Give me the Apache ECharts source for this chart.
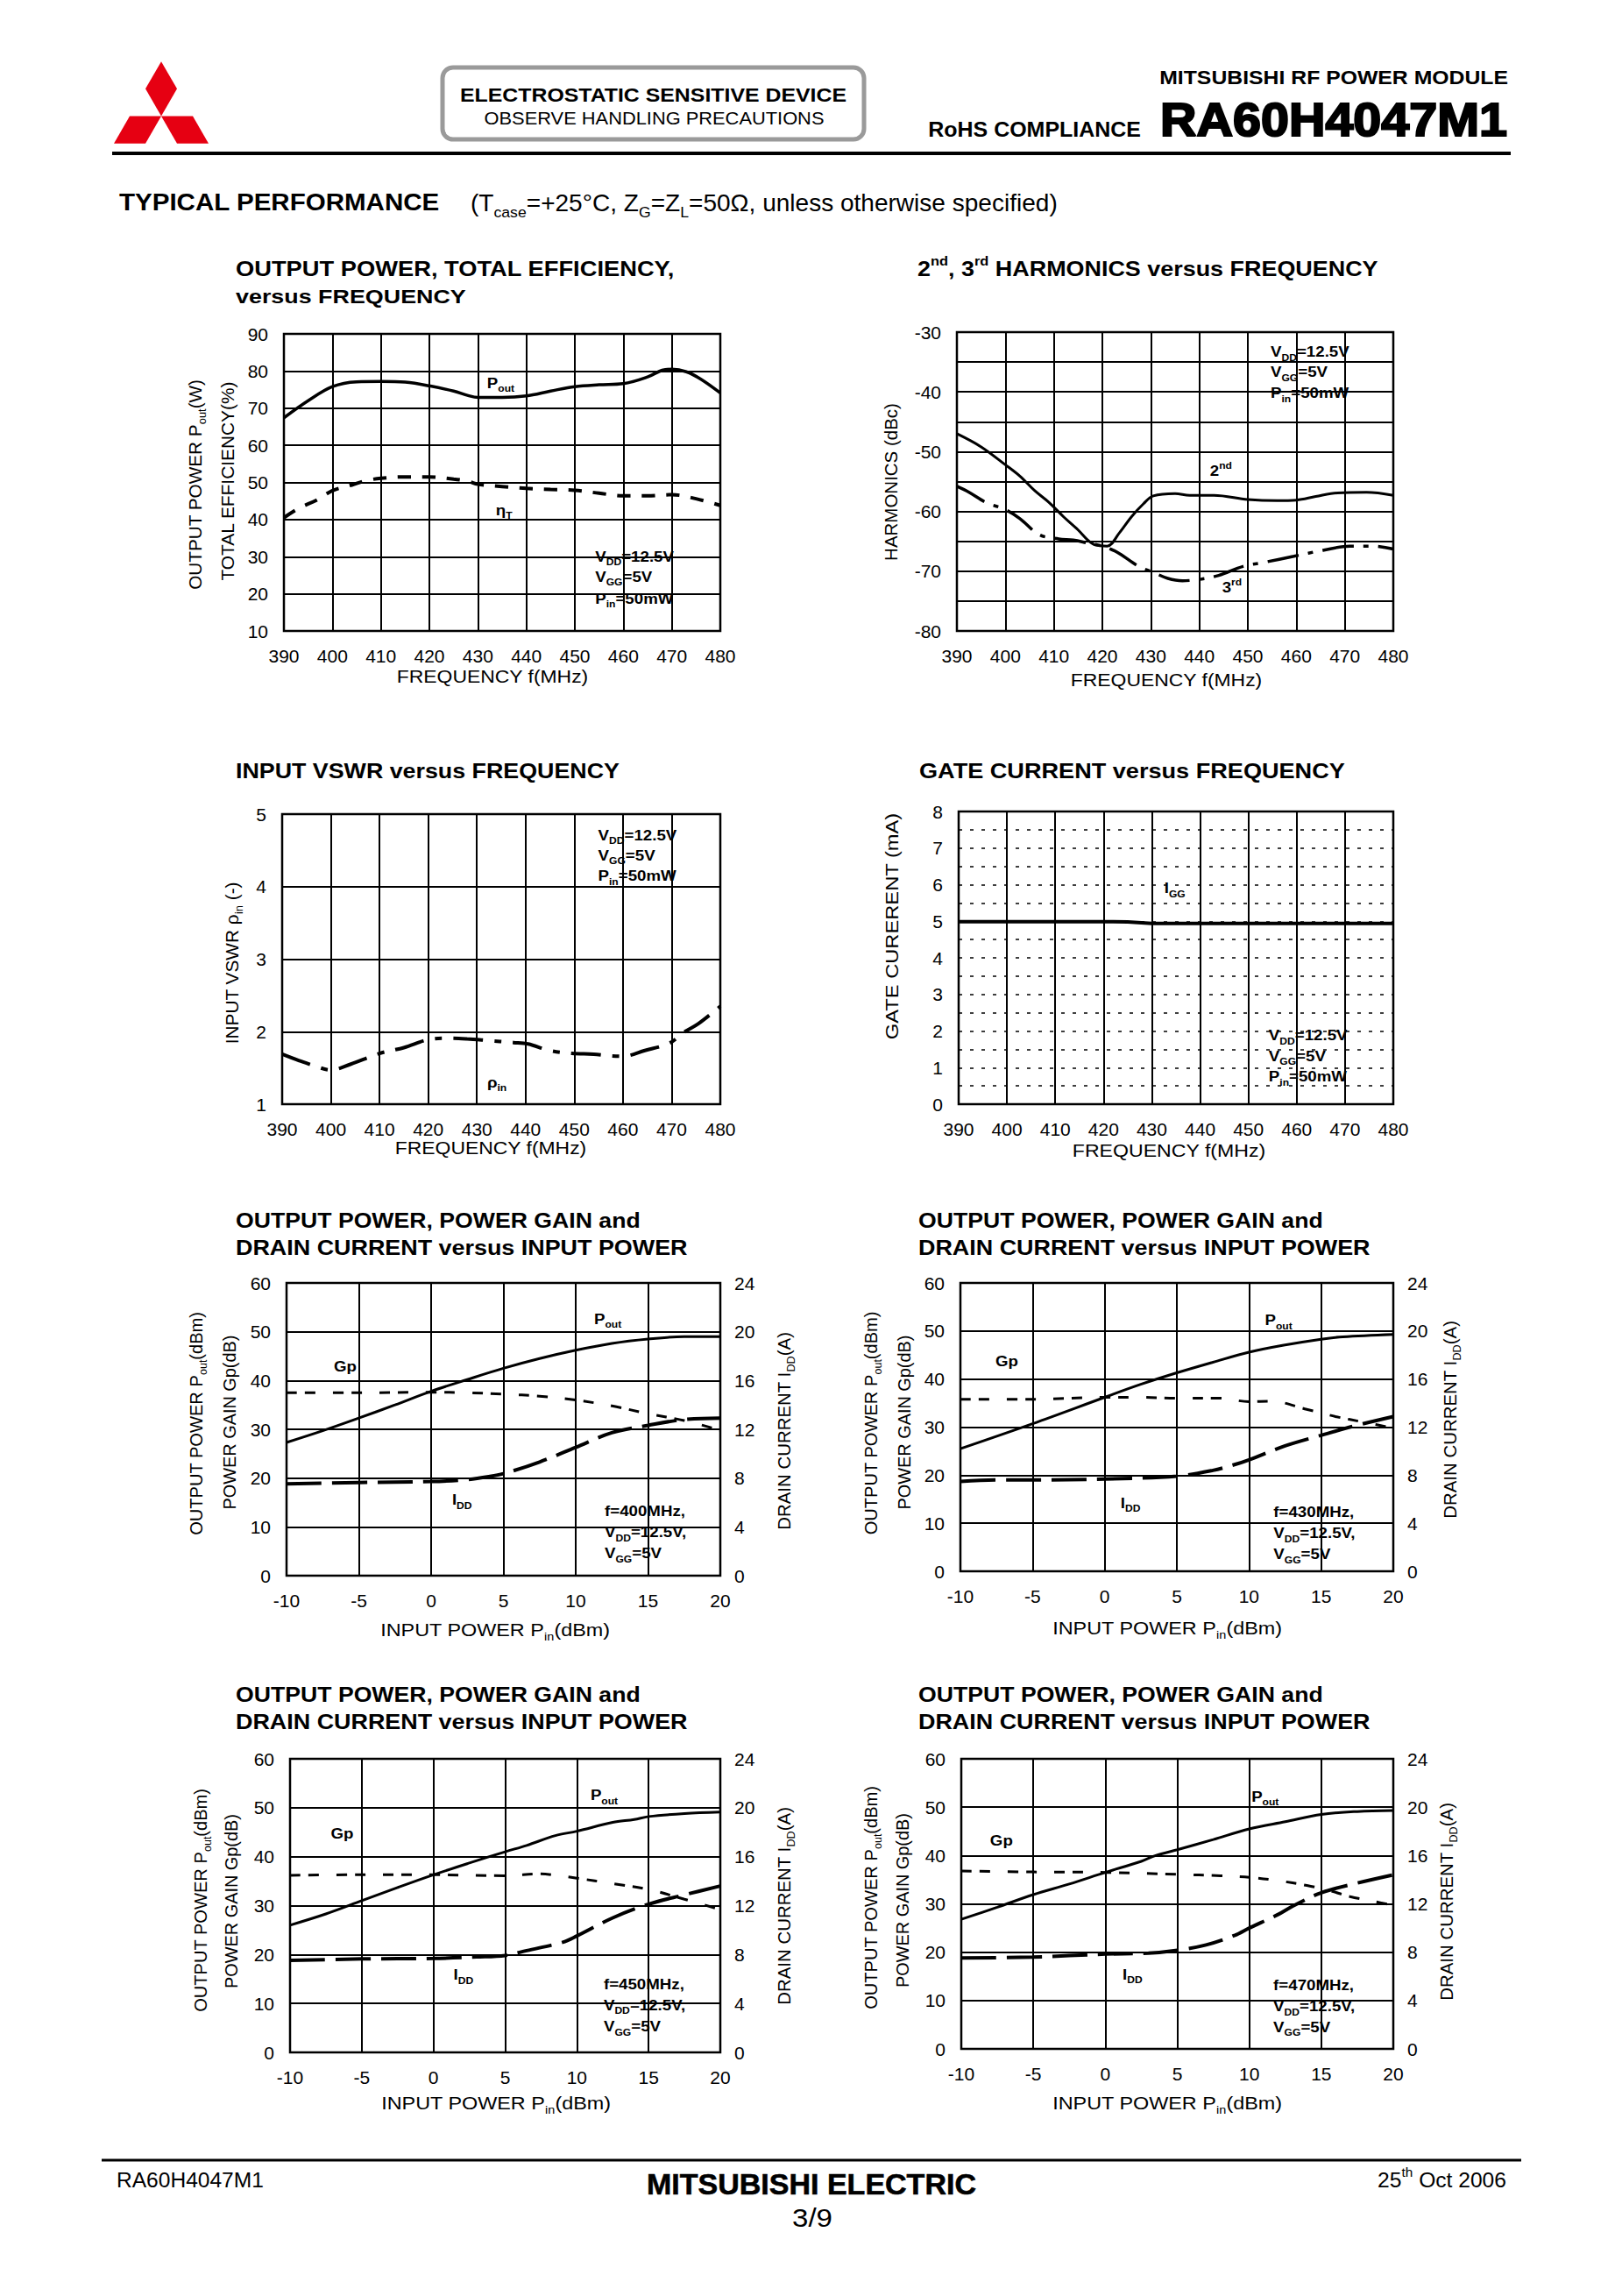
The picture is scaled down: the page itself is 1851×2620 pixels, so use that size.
<!DOCTYPE html>
<html>
<head>
<meta charset="utf-8">
<title>RA60H4047M1 Typical Performance</title>
<script src="https://cdn.jsdelivr.net/npm/echarts@6.0.0/dist/echarts.min.js"></script>
<style>
html,body{margin:0;padding:0;background:#fff;}
#chart{width:1851px;height:2620px;}
</style>
</head>
<body>
<div id="chart"></div>
<script>
const FONT = '"Liberation Sans", Arial, Helvetica, sans-serif';

// ---------- axis ranges [min, max, interval] (tick labels) ----------
const freqAxis = [390, 480, 10];
const pinAxis  = [-10, 20, 5];
const effAxis  = [10, 90, 10];
const harmAxis = [-80, -30, 5];
const vswrAxis = [1, 5, 1];
const iggAxis  = [0, 8, 0.5];
const poutAxis = [0, 60, 10];
const iddAxis  = [0, 24, 4];

// ---------- Chart 1: output power & total efficiency vs frequency ----------
const c1PoutFreq = [390,395,400,405,410,415,420,425,428,430,435,440,445,450,455,460,465,468,470,473,476,480];
const c1PoutW    = [67.4,72,75.8,77.1,77.2,77,76,74.6,73.4,72.9,72.9,73.3,74.6,75.8,76.3,76.6,78.4,80.2,80.5,79.8,77.8,74.1];
const c1EtaFreq  = [390,393,397,400,404,407,410,415,420,425,428,430,435,440,445,450,455,460,465,470,475,480];
const c1EtaPct   = [40.5,43,45.4,47.8,49.3,50.5,51.1,51.5,51.5,50.9,50.3,49.5,48.9,48.4,48.1,47.9,47.1,46.4,46.4,46.7,45.6,43.8];

// ---------- Chart 2: harmonics vs frequency ----------
const c2Freq2 = [390,395,400,403,406,409,412,415,417,418.5,421,423.5,426,428.5,430.5,435,438,443,450,456,460,464,468.5,474.5,480];
const c2Harm2 = [-47,-49.2,-52.2,-54.1,-56.5,-58.5,-60.9,-63.1,-64.8,-65.6,-65.8,-63.6,-60.9,-58.7,-57.4,-57,-57.3,-57.3,-58,-58.2,-58.1,-57.5,-56.9,-56.8,-57.3];
const c2Freq3 = [390,392.5,396,400,403,407,411,414,417,420,423,427.5,430.5,433.5,436.5,440.5,444,449,453.5,459.5,465.5,471,476,480];
const c2Harm3 = [-55.8,-56.8,-58.5,-59.7,-61.2,-63.9,-64.6,-64.8,-65.3,-65.8,-66.8,-69.2,-70.2,-71.2,-71.6,-71.3,-70.7,-69.2,-68.5,-67.5,-66.5,-65.8,-65.8,-66.3];

// ---------- Chart 3: input VSWR vs frequency ----------
const c3Freq = [390,393.5,397,400,404,410,415,420,424,428,432,437.5,440.5,445,449.5,454,457,460,464.5,469.5,472.5,475.5,480];
const c3Vswr = [1.69,1.60,1.52,1.47,1.55,1.70,1.78,1.89,1.91,1.90,1.88,1.85,1.83,1.74,1.70,1.69,1.67,1.66,1.74,1.84,1.99,2.11,2.35];

// ---------- Chart 4: gate current vs frequency ----------
const c4Freq = [390,400,410,420,425,430,440,450,460,470,480];
const c4Igg  = [4.99,4.99,4.99,4.99,4.98,4.94,4.94,4.94,4.94,4.94,4.94];

// ---------- Charts 5-8: Pout, Gp, IDD vs input power ----------
const c5PinP = [-10,-7.5,-5,-2.5,0,2.5,5,7.5,10,12.5,15,17.5,20];
const c5Pout = [27.3,29.7,32.3,35,37.8,40.2,42.5,44.5,46.2,47.6,48.5,49.0,49.0];
const c5PinG = [-10,-5,0,2.5,5,7.5,10,12.5,15,17.5,20];
const c5Gp   = [37.5,37.5,37.6,37.5,37.2,36.8,36.0,34.8,33.2,31.8,29.8];
const c5PinI = [-10,-5,0,2.5,4,5,7.5,10,12.5,15,17.5,20];
const c5Idd  = [7.52,7.64,7.72,7.88,8.12,8.36,9.32,10.52,11.72,12.32,12.8,12.92];

const c6PinP = [-10,-5,0,2.5,5,7.5,10,12.5,15,16.5,20];
const c6Pout = [25.5,30.7,36.2,38.9,41.3,43.5,45.6,47.1,48.3,48.8,49.3];
const c6PinG = [-10,-5,0,2.5,5,8,10,11.5,14,16,18,20];
const c6Gp   = [35.8,35.8,36.2,36.2,36.0,36.0,35.3,35.4,33.7,32.2,31.0,29.8];
const c6PinI = [-10,-7.5,-5,0,5,7.5,9,10,12.5,15,17.5,20];
const c6Idd  = [7.48,7.6,7.6,7.68,7.92,8.4,8.88,9.28,10.44,11.32,12.16,12.88];

const c7PinP = [-10,-7.5,-5,-2.5,0,2.5,5,6.5,8.5,10,12.5,14,15,17.5,20];
const c7Pout = [26,28.3,31,33.7,36.3,38.7,41,42.3,44.3,45.2,47,47.6,48.2,48.8,49.1];
const c7PinG = [-10,-5,0,5,7.5,8.5,10,12.5,15,17.5,20];
const c7Gp   = [36.2,36.3,36.3,36.1,36.5,36.2,35.6,34.5,33.3,31.3,29.2];
const c7PinI = [-10,-5,0,3,5,6.5,9,10,12.5,15,17.5,20];
const c7Idd  = [7.52,7.64,7.68,7.8,7.92,8.32,9.0,9.52,11.0,12.12,12.88,13.6];

const c8PinP = [-10,-7.5,-5,-2.5,0,2.5,3.5,5,7.5,10,12.5,15,17.5,20];
const c8Pout = [26.8,29.3,31.9,34.1,36.5,38.8,40,41.2,43.3,45.5,47,48.5,49.1,49.3];
const c8PinG = [-10,-5,0,5,8,10,12,14,15.5,17,18.5,20];
const c8Gp   = [36.8,36.6,36.5,36.1,35.8,35.5,34.8,33.8,32.8,31.5,30.6,29.7];
const c8PinI = [-10,-5,0,3,5,7,9,10,12,13,15,17.5,20];
const c8Idd  = [7.52,7.6,7.84,7.92,8.16,8.6,9.4,10.0,11.12,11.8,12.92,13.72,14.4];

// ---------- helpers ----------
const zip = (xs, ys) => xs.map((x, i) => [x, ys[i]]);

const GRIDS = [
  [324, 381, 498, 339],
  [1092, 379, 498, 341],
  [322, 929, 500, 331],
  [1094, 926, 496, 334],
  [327, 1464, 495, 334],
  [1096, 1464, 494, 329],
  [331, 2007, 491, 335],
  [1097, 2007, 493, 331]
];

const chart = echarts.init(document.getElementById('chart'), null, {renderer: 'svg', width: 1851, height: 2620});

function axisCommon(range, gridIndex, extra) {
  const o = {
    type: 'value', gridIndex: gridIndex, min: range[0], max: range[1], interval: range[2],
    axisLine: {show: false}, axisTick: {show: false},
    splitLine: {show: true, lineStyle: {color: '#000', width: 2, type: 'solid'}},
    axisLabel: {color: '#000', fontSize: 21, fontFamily: FONT, margin: 18}
  };
  return Object.assign(o, extra || {});
}
const lbl = (extra) => Object.assign({color: '#000', fontSize: 21, fontFamily: FONT, margin: 18}, extra);

const xAxes = [];
for (let i = 0; i < 4; i++) xAxes.push(axisCommon(freqAxis, i));
for (let i = 4; i < 8; i++) xAxes.push(axisCommon(pinAxis, i));

const yAxes = [
  axisCommon(effAxis, 0),
  axisCommon(harmAxis, 1, {axisLabel: lbl({formatter: v => (v % 10 === 0 ? String(v) : '')})}),
  axisCommon(vswrAxis, 2),
  axisCommon(iggAxis, 3, {
    splitLine: {show: true, lineStyle: {color: '#000', width: 1.5, type: [4, 9]}},
    axisLabel: lbl({formatter: v => (Number.isInteger(v) ? String(v) : '')})
  }),
  axisCommon(poutAxis, 4), axisCommon(poutAxis, 5), axisCommon(poutAxis, 6), axisCommon(poutAxis, 7)
];
for (let k = 0; k < 4; k++) {
  yAxes.push(axisCommon(iddAxis, 4 + k, {position: 'right', splitLine: {show: false}, axisLabel: lbl({margin: 16})}));
}

function line(xi, yi, data, type, width, smooth) {
  return {
    type: 'line', xAxisIndex: xi, yAxisIndex: yi, data: data,
    showSymbol: false, symbol: 'none', smooth: smooth === false ? false : 0.35,
    lineStyle: {color: '#000', width: width, type: type, cap: 'butt'},
    itemStyle: {color: '#000'}, silent: true, z: 3
  };
}

const series = [
  line(0, 0, zip(c1PoutFreq, c1PoutW), 'solid', 3.5),
  line(0, 0, zip(c1EtaFreq, c1EtaPct), [15, 13], 4),
  line(1, 1, zip(c2Freq2, c2Harm2), 'solid', 3),
  line(1, 1, zip(c2Freq3, c2Harm3), [36, 11, 6, 11], 3.5),
  line(2, 2, zip(c3Freq, c3Vswr), [34, 13, 8, 13], 4),
  line(3, 3, zip(c4Freq, c4Igg), 'solid', 4, false)
];
const pinSets = [
  [c5PinP, c5Pout, c5PinG, c5Gp, c5PinI, c5Idd],
  [c6PinP, c6Pout, c6PinG, c6Gp, c6PinI, c6Idd],
  [c7PinP, c7Pout, c7PinG, c7Gp, c7PinI, c7Idd],
  [c8PinP, c8Pout, c8PinG, c8Gp, c8PinI, c8Idd]
];
pinSets.forEach((s, k) => {
  series.push(line(4 + k, 4 + k, zip(s[0], s[1]), 'solid', 3));
  series.push(line(4 + k, 4 + k, zip(s[2], s[3]), [12, 9, 12, 20], 3));
  series.push(line(4 + k, 8 + k, zip(s[4], s[5]), [40, 12], 4));
});

chart.setOption({
  animation: false,
  backgroundColor: '#fff',
  textStyle: {fontFamily: FONT},
  grid: GRIDS.map(g => ({
    left: g[0], top: g[1], width: g[2], height: g[3], show: true,
    borderColor: '#000', borderWidth: 2.5, backgroundColor: 'transparent',
    containLabel: false, outerBoundsMode: 'none'
  })),
  xAxis: xAxes,
  yAxis: yAxes,
  series: series
});

// ---------- text helpers ----------
const mctx = document.createElement('canvas').getContext('2d');
function fstr(size, weight) { return (weight || 'normal') + ' ' + size + 'px ' + FONT; }
function mw(t, size, weight) { mctx.font = fstr(size, weight); return mctx.measureText(t).width; }
function richText(str, size, weight, stroke) {
  const sub = Math.round(size * 0.62);
  const re = /([_^])\{([^}]*)\}/g;
  let out = '', w = 0, last = 0, m;
  const push = (name, t, s) => { if (!t) return; out += '{' + name + '|' + t + '}'; w += mw(t, s, weight); };
  while ((m = re.exec(str)) !== null) {
    push('n', str.slice(last, m.index), size);
    push(m[1] === '_' ? 'b' : 'p', m[2], sub);
    last = re.lastIndex;
  }
  push('n', str.slice(last), size);
  const base = {fontFamily: FONT, fontWeight: weight || 'normal', fill: '#000'};
  if (stroke) { base.stroke = '#000'; base.lineWidth = stroke; }
  return {text: out, width: w, rich: {
    n: Object.assign({fontSize: size, lineHeight: Math.round(size * 1.4), verticalAlign: 'middle'}, base),
    b: Object.assign({fontSize: sub, verticalAlign: 'bottom'}, base),
    p: Object.assign({fontSize: sub, verticalAlign: 'top'}, base)
  }};
}
function T(x, y, str, size, weight, o) {
  o = o || {};
  const r = richText(str, size, weight, o.stroke);
  const sx = o.w ? o.w / r.width : (o.sx || 1);
  return {
    type: 'text', x: x, y: y, rotation: o.rot || 0, scaleX: sx, scaleY: 1, silent: true, z: 100,
    style: {text: r.text, rich: r.rich, fill: '#000', font: fstr(size, weight),
      align: o.align || 'left', verticalAlign: 'middle'}
  };
}
const ROT = Math.PI / 2;
function A(k, x, y, str, o) {
  const p = chart.convertToPixel({xAxisIndex: k, yAxisIndex: k}, [x, y]);
  return T(p[0], p[1], str, 17, 'bold', Object.assign({sx: 1.1}, o || {}));
}
function cond(k, x, ys, lines) { return lines.map((s, i) => A(k, x, ys[i], s)); }
const COND_F = ['V_{DD}=12.5V', 'V_{GG}=5V', 'P_{in}=50mW'];

const g = [];
// logo
const RED = '#e60012';
const LC = [184, 132.5], LS = 36, LH = LS * 0.866;
const poly = pts => ({type: 'polygon', shape: {points: pts}, style: {fill: RED}, silent: true});
g.push(poly([[LC[0], LC[1]], [LC[0] + LS / 2, LC[1] - LH], [LC[0], LC[1] - 2 * LH], [LC[0] - LS / 2, LC[1] - LH]]));
g.push(poly([[LC[0], LC[1]], [LC[0] - LS, LC[1]], [LC[0] - 1.5 * LS, LC[1] + LH], [LC[0] - LS / 2, LC[1] + LH]]));
g.push(poly([[LC[0], LC[1]], [LC[0] + LS, LC[1]], [LC[0] + 1.5 * LS, LC[1] + LH], [LC[0] + LS / 2, LC[1] + LH]]));

// ESD box
g.push({type: 'rect', shape: {x: 505, y: 77, width: 481, height: 82, r: 12}, style: {fill: '#fff', stroke: '#9a9a9a', lineWidth: 5}, silent: true});
g.push(T(745.5, 108, 'ELECTROSTATIC SENSITIVE DEVICE', 23, 'bold', {align: 'center', w: 441}));
g.push(T(746.5, 135, 'OBSERVE HANDLING PRECAUTIONS', 20, 'normal', {align: 'center', w: 388}));

// header right
g.push(T(1721, 88, 'MITSUBISHI RF POWER MODULE', 22, 'bold', {align: 'right', w: 398}));
g.push(T(1302, 148, 'RoHS COMPLIANCE', 24, 'bold', {align: 'right', w: 243}));
g.push(T(1720, 137, 'RA60H4047M1', 54, 'bold', {align: 'right', w: 396, stroke: 2.2}));
g.push({type: 'line', shape: {x1: 128, y1: 175, x2: 1724, y2: 175}, style: {stroke: '#000', lineWidth: 4}, silent: true});

g.push(T(136, 230, 'TYPICAL PERFORMANCE', 28, 'bold', {w: 366}));
g.push(T(537, 232, '(T_{case}=+25°C, Z_{G}=Z_{L}=50Ω, unless otherwise specified)', 27, 'normal', {w: 670}));

// footer
g.push({type: 'line', shape: {x1: 116, y1: 2465, x2: 1736, y2: 2465}, style: {stroke: '#000', lineWidth: 3}, silent: true});
g.push(T(133, 2488, 'RA60H4047M1', 24, 'normal', {w: 168}));
g.push(T(926, 2492, 'MITSUBISHI ELECTRIC', 34, 'bold', {align: 'center', w: 376, stroke: 0.6}));
g.push(T(927, 2531, '3/9', 29, 'normal', {align: 'center', w: 46}));
g.push(T(1719, 2488, '25^{th} Oct 2006', 24, 'normal', {align: 'right', w: 147}));

// chart titles
g.push(T(269, 307, 'OUTPUT POWER, TOTAL EFFICIENCY,', 23, 'bold', {w: 501}));
g.push(T(269, 338, 'versus FREQUENCY', 23, 'bold', {w: 263}));
g.push(T(1047, 307, '2^{nd}, 3^{rd} HARMONICS versus FREQUENCY', 23, 'bold', {w: 526}));
g.push(T(269, 880, 'INPUT VSWR versus FREQUENCY', 23, 'bold', {w: 438}));
g.push(T(1049, 880, 'GATE CURRENT versus FREQUENCY', 23, 'bold', {w: 486}));
[[269, 1393], [1048, 1393], [269, 1934], [1048, 1934]].forEach(p => {
  g.push(T(p[0], p[1], 'OUTPUT POWER, POWER GAIN and', 23, 'bold', {w: 462}));
  g.push(T(p[0], p[1] + 31, 'DRAIN CURRENT versus INPUT POWER', 23, 'bold', {w: 516}));
});

// axis names
g.push(T(562, 772, 'FREQUENCY f(MHz)', 21, 'normal', {align: 'center', w: 219}));
g.push(T(222, 553, 'OUTPUT POWER P_{out}(W)', 21, 'normal', {align: 'center', rot: ROT, w: 240}));
g.push(T(259, 549, 'TOTAL EFFICIENCY(%)', 21, 'normal', {align: 'center', rot: ROT, w: 228}));
g.push(T(1331, 776, 'FREQUENCY f(MHz)', 21, 'normal', {align: 'center', w: 219}));
g.push(T(1016, 550, 'HARMONICS (dBc)', 21, 'normal', {align: 'center', rot: ROT, w: 180}));
g.push(T(560, 1310, 'FREQUENCY f(MHz)', 21, 'normal', {align: 'center', w: 219}));
g.push(T(264, 1099, 'INPUT VSWR ρ_{in} (-)', 21, 'normal', {align: 'center', rot: ROT, w: 185}));
g.push(T(1334, 1313, 'FREQUENCY f(MHz)', 21, 'normal', {align: 'center', w: 221}));
g.push(T(1018, 1057, 'GATE CURERENT (mA)', 21, 'normal', {align: 'center', rot: ROT, w: 259}));

const pinNames = [
  {x: [565, 1860], y1: [223.5, 1624.5], y2: [261, 1623], r: [894, 1633]},
  {x: [1332, 1858], y1: [993.5, 1624], y2: [1031, 1623], r: [1654, 1620]},
  {x: [566, 2400], y1: [228, 2168.5], y2: [263.6, 2169.5], r: [894, 2175]},
  {x: [1332, 2400], y1: [993.5, 2165.5], y2: [1029, 2168.5], r: [1650, 2170]}
];
pinNames.forEach(n => {
  g.push(T(n.x[0], n.x[1], 'INPUT POWER P_{in}(dBm)', 21, 'normal', {align: 'center', w: 262}));
  g.push(T(n.y1[0], n.y1[1], 'OUTPUT POWER P_{out}(dBm)', 21, 'normal', {align: 'center', rot: ROT, w: 255}));
  g.push(T(n.y2[0], n.y2[1], 'POWER GAIN Gp(dB)', 21, 'normal', {align: 'center', rot: ROT, w: 199}));
  g.push(T(n.r[0], n.r[1], 'DRAIN CURRENT I_{DD}(A)', 21, 'normal', {align: 'center', rot: ROT, w: 226}));
});

// in-plot annotations (data coordinates)
g.push(A(0, 431.9, 76.8, 'P_{out}'));
g.push(A(0, 433.7, 42.6, 'η_{T}'));
g.push(...cond(0, 454.2, [30.1, 24.6, 18.7], COND_F));
g.push(A(1, 442.2, -53.2, '2^{nd}'));
g.push(A(1, 444.7, -72.7, '3^{rd}'));
g.push(...cond(1, 454.7, [-33.3, -36.7, -40.2], COND_F));
g.push(A(2, 432.1, 1.30, 'ρ_{in}'));
g.push(...cond(2, 454.9, [4.71, 4.43, 4.15], COND_F));
g.push(A(3, 432.6, 5.91, 'I_{GG}'));
g.push(...cond(3, 454.2, [1.88, 1.32, 0.76], COND_F));

const pinNotes = [
  {k: 4, pout: [11.27, 52.6], gp: [-6.73, 42.8], idd: [1.45, 15.5], cx: 12.0, cy: [13.2, 8.9, 4.6], f: 'f=400MHz,'},
  {k: 5, pout: [11.1, 52.2], gp: [-7.57, 43.8], idd: [1.1, 14.2], cx: 11.7, cy: [12.4, 7.9, 3.6], f: 'f=430MHz,'},
  {k: 6, pout: [10.95, 52.6], gp: [-7.16, 44.8], idd: [1.4, 15.9], cx: 11.87, cy: [14.0, 9.7, 5.3], f: 'f=450MHz,'},
  {k: 7, pout: [10.15, 52.2], gp: [-8.0, 43.1], idd: [1.2, 15.4], cx: 11.67, cy: [13.1, 8.8, 4.5], f: 'f=470MHz,'}
];
pinNotes.forEach(n => {
  g.push(A(n.k, n.pout[0], n.pout[1], 'P_{out}'));
  g.push(A(n.k, n.gp[0], n.gp[1], 'Gp'));
  g.push(A(n.k, n.idd[0], n.idd[1], 'I_{DD}'));
  g.push(...cond(n.k, n.cx, n.cy, [n.f, 'V_{DD}=12.5V,', 'V_{GG}=5V']));
});

chart.setOption({graphic: {elements: g}});
</script>
</body>
</html>
